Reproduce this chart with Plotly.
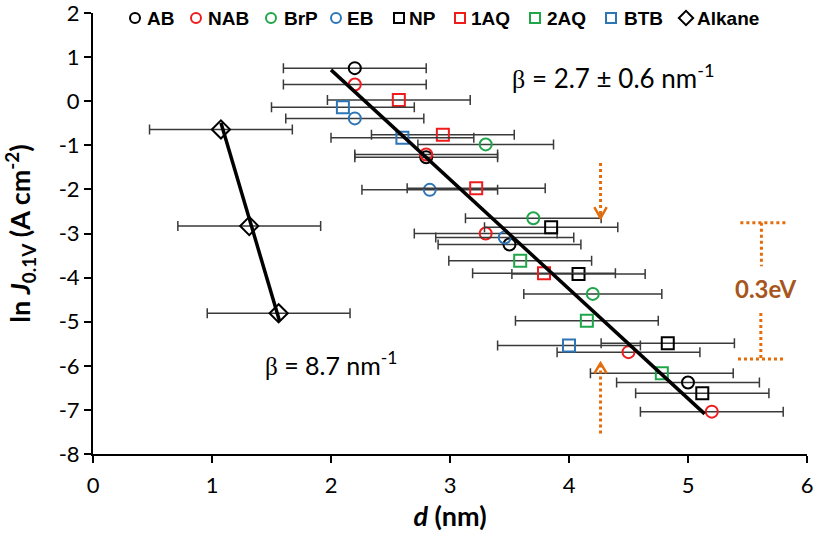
import plotly.graph_objects as go

# ---------------- data (d in nm, ln J in A cm^-2) ----------------
AB_d = [2.20, 2.80, 3.50, 5.00]
AB_lnJ = [0.75, -1.27, -3.25, -6.38]
AB_err = [0.60, 0.60, 0.60, 0.60]

NAB_d = [2.20, 2.80, 3.30, 4.50, 5.20]
NAB_lnJ = [0.38, -1.21, -3.00, -5.69, -7.04]
NAB_err = [0.60, 0.60, 0.60, 0.60, 0.60]

BrP_d = [3.30, 3.70, 4.20]
BrP_lnJ = [-0.98, -2.655, -4.37]
BrP_err = [0.57, 0.57, 0.58]

EB_d = [2.20, 2.83, 3.46]
EB_lnJ = [-0.39, -2.01, -3.09]
EB_err = [0.58, 0.57, 0.58]

NP_d = [3.85, 4.08, 4.83, 5.12]
NP_lnJ = [-2.86, -3.92, -5.49, -6.62]
NP_err = [0.56, 0.56, 0.56, 0.56]

AQ1_d = [2.57, 2.94, 3.22, 3.79]
AQ1_lnJ = [0.03, -0.76, -1.975, -3.90]
AQ1_err = [0.60, 0.60, 0.58, 0.60]

AQ2_d = [3.59, 4.15, 4.78]
AQ2_lnJ = [-3.62, -4.98, -6.17]
AQ2_err = [0.60, 0.60, 0.60]

BTB_d = [2.10, 2.60, 4.00]
BTB_lnJ = [-0.14, -0.83, -5.54]
BTB_err = [0.60, 0.60, 0.60]

Alkane_d = [1.075, 1.313, 1.56]
Alkane_lnJ = [-0.64, -2.83, -4.81]
Alkane_err = [0.60, 0.60, 0.60]

# linear fits
FIT_d = [2.00, 5.14]
FIT_lnJ = [0.71, -7.09]
ALK_FIT_d = [1.075, 1.567]
ALK_FIT_lnJ = [-0.49, -4.98]

X_TICKS = [0, 1, 2, 3, 4, 5, 6]
Y_TICKS = [2, 1, 0, -1, -2, -3, -4, -5, -6, -7, -8]

BLACK = "#000000"
RED = "#EE1C1C"
GREEN = "#1FA64A"
BLUE = "#2E75B6"
ORANGE = "#E46C0A"
BROWN = "#A6561C"

SERIES = [
    ("AB", AB_d, AB_lnJ, AB_err, "circle", BLACK),
    ("NAB", NAB_d, NAB_lnJ, NAB_err, "circle", RED),
    ("BrP", BrP_d, BrP_lnJ, BrP_err, "circle", GREEN),
    ("EB", EB_d, EB_lnJ, EB_err, "circle", BLUE),
    ("NP", NP_d, NP_lnJ, NP_err, "square", BLACK),
    ("1AQ", AQ1_d, AQ1_lnJ, AQ1_err, "square", RED),
    ("2AQ", AQ2_d, AQ2_lnJ, AQ2_err, "square", GREEN),
    ("BTB", BTB_d, BTB_lnJ, BTB_err, "square", BLUE),
    ("Alkane", Alkane_d, Alkane_lnJ, Alkane_err, "diamond", BLACK),
]

# legend layout (pixel positions in the overlay axis: marker centre, text left)
LEG_MARK_X = [135, 196, 271, 336, 399, 460, 535, 611, 686]
LEG_TEXT_X = [145, 206, 282, 345, 407, 469, 545, 622, 695]
LEG_Y = 18

fig = go.Figure()

for name, xs, ys, es, sym, col in SERIES:
    fig.add_trace(go.Scatter(
        x=xs, y=ys, mode="markers", name=name, showlegend=False,
        marker=dict(symbol=sym + "-open", size=14 if sym == "diamond" else 12,
                    color=col, line=dict(width=2, color=col)),
        error_x=dict(type="data", array=es, color="#3a3a3a", thickness=1.5, width=5),
    ))

fig.add_trace(go.Scatter(x=FIT_d, y=FIT_lnJ, mode="lines", showlegend=False,
                         line=dict(color=BLACK, width=3.5)))
fig.add_trace(go.Scatter(x=ALK_FIT_d, y=ALK_FIT_lnJ, mode="lines", showlegend=False,
                         line=dict(color=BLACK, width=3.5)))

# custom legend on a pixel overlay axis
for i, (name, xs, ys, es, sym, col) in enumerate(SERIES):
    fig.add_trace(go.Scatter(
        x=[LEG_MARK_X[i]], y=[LEG_Y], xaxis="x2", yaxis="y2", mode="markers",
        showlegend=False, cliponaxis=False, hoverinfo="skip",
        marker=dict(symbol=sym + "-open", size=11 if sym == "diamond" else 10,
                    color=col, line=dict(width=2, color=col)),
    ))
    fig.add_annotation(x=LEG_TEXT_X[i], y=LEG_Y, xref="x2", yref="y2",
                       text="<b>%s</b>" % name, showarrow=False,
                       xanchor="left", yanchor="middle",
                       font=dict(family="Liberation Sans", size=19, color="black"))

# orange arrows and bracket
dot = dict(color=ORANGE, width=3, dash="dot")
AR_X = 4.265
shapes = [
    dict(type="line", x0=AR_X, x1=AR_X, y0=-1.40, y1=-2.62, line=dot),
    dict(type="path", path="M %f %f L %f %f L %f %f" % (AR_X - 0.052, -2.40, AR_X, -2.65, AR_X + 0.052, -2.40),
         line=dict(color=ORANGE, width=2.5)),
    dict(type="line", x0=AR_X, x1=AR_X, y0=-5.97, y1=-7.57, line=dot),
    dict(type="path", path="M %f %f L %f %f L %f %f" % (AR_X - 0.052, -6.17, AR_X, -5.94, AR_X + 0.052, -6.17),
         line=dict(color=ORANGE, width=2.5)),
    dict(type="line", x0=5.44, x1=5.84, y0=-2.755, y1=-2.755, line=dot),
    dict(type="line", x0=5.617, x1=5.617, y0=-2.755, y1=-3.74, line=dot),
    dict(type="line", x0=5.612, x1=5.612, y0=-4.80, y1=-5.846, line=dot),
    dict(type="line", x0=5.42, x1=5.82, y0=-5.846, y1=-5.846, line=dot),
]

beta = "<span style='font-family:Liberation Serif'>β</span>"
annotations = [
    dict(x=4.37, y=0.55, xref="x", yref="y", showarrow=False,
         text=beta + " = 2.7 ± 0.6 nm<sup>-1</sup>",
         font=dict(family="Lato", size=26, color="black")),
    dict(x=2.0, y=-5.95, xref="x", yref="y", showarrow=False,
         text=beta + " = 8.7 nm<sup>-1</sup>",
         font=dict(family="Lato", size=25, color="black")),
    dict(x=5.648, y=-4.236, xref="x", yref="y", showarrow=False,
         text="<b>0.3eV</b>", font=dict(family="Lato", size=24, color=BROWN)),
]
for a in annotations:
    fig.add_annotation(**a)

axis_common = dict(showline=True, linecolor="black", linewidth=2, ticks="outside",
                   ticklen=7, tickwidth=1.5, tickcolor="black", showgrid=False,
                   zeroline=False, automargin=False, ticklabeloverflow="allow",
                   tickfont=dict(family="Lato", size=22, color="black"))

fig.update_layout(
    width=820, height=536,
    margin=dict(l=93, r=13, t=13, b=82),
    paper_bgcolor="white", plot_bgcolor="white",
    shapes=shapes,
    xaxis=dict(range=[0, 6], tickvals=X_TICKS, ticktext=[str(v) for v in X_TICKS],
               ticklabelstandoff=4,
               title=dict(text="<b><i>d</i> (nm)</b>", standoff=10,
                          font=dict(family="Lato", size=27, color="black")),
               **axis_common),
    yaxis=dict(range=[-8, 2], tickvals=Y_TICKS, ticktext=[str(v) for v in Y_TICKS],
               title=dict(text="<b>ln <i>J</i><sub>0.1V</sub> (A cm<sup>-2</sup>)</b>", standoff=20,
                          font=dict(family="Lato", size=27, color="black")),
               **axis_common),
    xaxis2=dict(overlaying="x", anchor="y2", range=[93, 807], visible=False, fixedrange=True),
    yaxis2=dict(overlaying="y", anchor="x2", range=[454, 13], visible=False, fixedrange=True),
    showlegend=False,
)

fig.write_html("out.html", config={"displayModeBar": False},
               post_script="document.body.style.margin='0';document.body.style.padding='0';")
